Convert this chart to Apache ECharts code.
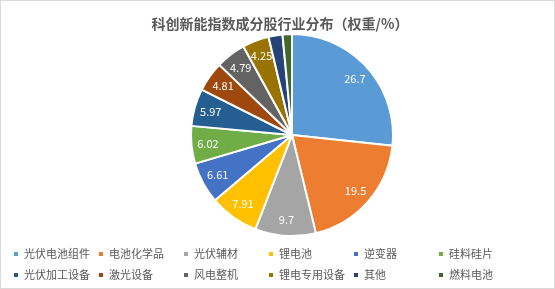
<!DOCTYPE html>
<html>
<head>
<meta charset="utf-8">
<script src="https://cdn.jsdelivr.net/npm/echarts@6/dist/echarts.min.js"></script>
<style>
  html, body { margin: 0; padding: 0; background: #fff; }
  #chart { width: 553px; height: 287px; border: 1px solid #d9d9d9; }
</style>
</head>
<body>
<div id="chart"></div>
<script>
var categories = ["光伏电池组件", "电池化学品", "光伏辅材", "锂电池", "逆变器", "硅料硅片",
                  "光伏加工设备", "激光设备", "风电整机", "锂电专用设备", "其他", "燃料电池"];
var weights = [26.7, 19.5, 9.7, 7.91, 6.61, 6.02, 5.97, 4.81, 4.79, 4.25, 2.24, 1.5];
var showLabel = [true, true, true, true, true, true, true, true, true, true, false, false];
var colors = ["#5B9BD5", "#ED7D31", "#A5A5A5", "#FFC000", "#4472C4", "#70AD47",
              "#255E91", "#9E480E", "#636363", "#997300", "#264478", "#43682B"];

var pieData = categories.map(function (c, i) {
    return { name: c, value: weights[i] };
});
var labelData = categories.map(function (c, i) {
    return {
        name: c, value: weights[i],
        label: { show: showLabel[i] }
    };
});

var chart = echarts.init(document.getElementById("chart"));
var font = "'Noto Sans CJK SC', 'Microsoft YaHei', sans-serif";
chart.setOption({
    animation: false,
    color: colors,
    title: {
        text: "科创新能指数成分股行业分布（权重/%）",
        left: 274, top: 11, textAlign: "center",
        textStyle: { fontSize: 14, fontWeight: "bold", color: "#595959", fontFamily: font }
    },
    legend: {
        data: categories,
        left: 6, top: 240, width: 540,
        orient: "horizontal",
        icon: "rect", itemWidth: 6, itemHeight: 6, itemGap: 5,
        textStyle: { fontSize: 11, color: "#595959", fontFamily: font, width: 68, lineHeight: 16 }
    },
    series: [{
        type: "pie",
        center: [291, 134],
        radius: [0, 101],
        startAngle: 90,
        clockwise: true,
        itemStyle: { borderColor: "#fff", borderWidth: 2 },
        label: { show: false },
        labelLine: { show: false },
        data: pieData
    }, {
        type: "pie",
        center: [291, 134],
        radius: [62, 101],
        startAngle: 90,
        clockwise: true,
        silent: true,
        itemStyle: { color: "rgba(0,0,0,0)", borderWidth: 0 },
        label: {
            position: "inside", color: "#fff", fontSize: 11, fontFamily: font,
            formatter: function (p) { return p.value; }
        },
        labelLine: { show: false },
        emphasis: { disabled: true },
        data: labelData
    }]
});
</script>
</body>
</html>
